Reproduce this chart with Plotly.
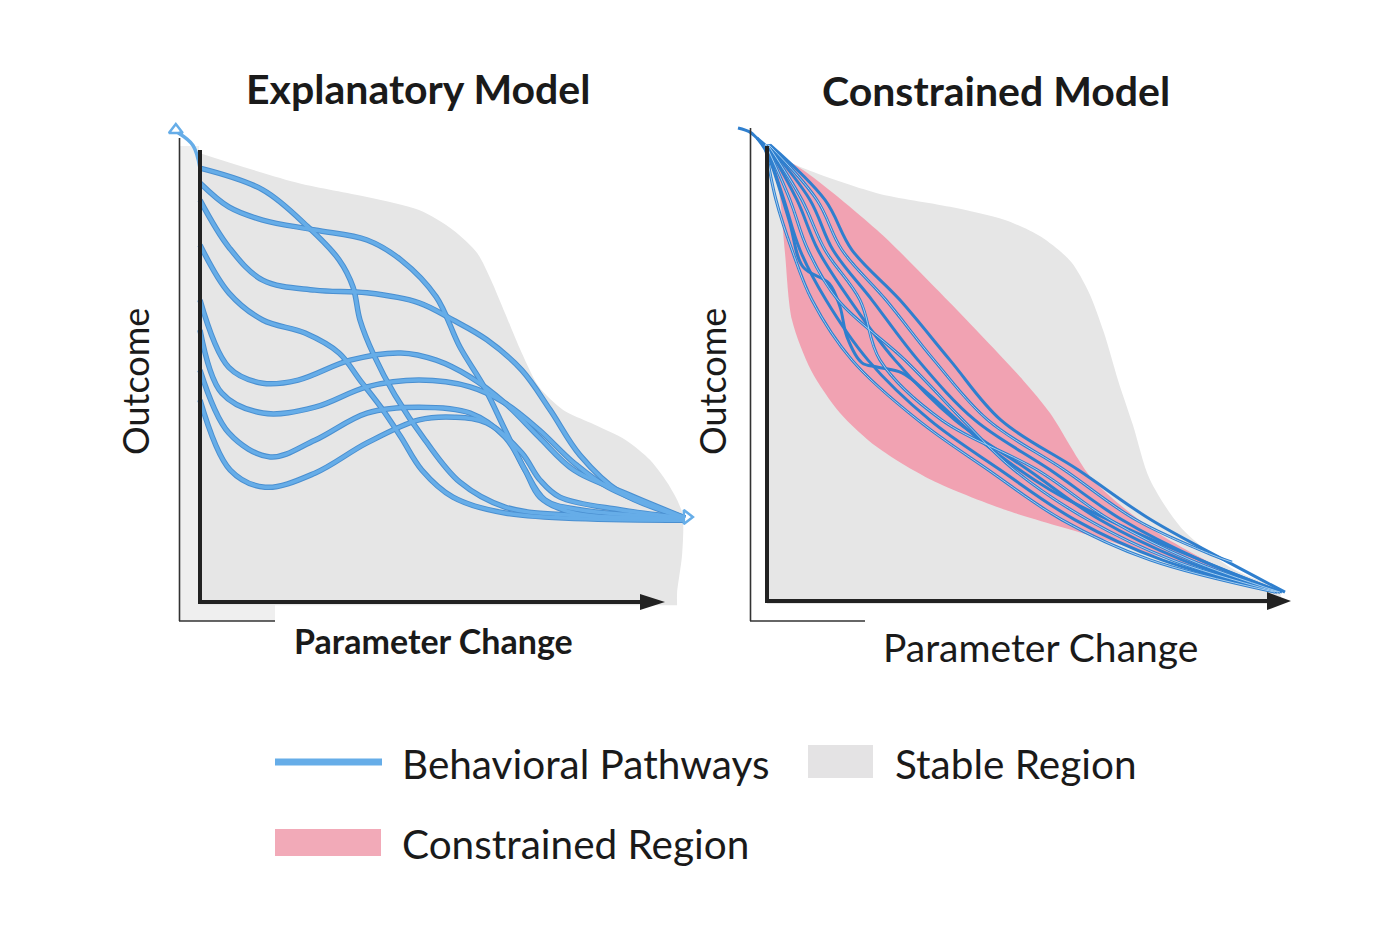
import plotly.graph_objects as go

W, H = 1400, 933

# ---------------- data (left panel: Explanatory Model) ----------------
left_base_x = [0, 10.26]
left_base_y = [-0.07, -0.07]
left_stable_x = [0, 2.11, 3.59, 4.71, 5.44, 5.96, 6.26, 6.56, 6.92, 7.29, 7.81, 8.41, 9.16, 9.68, 10.11, 10.37, 10.37, 10.26, 10.26]
left_stable_y = [9.93, 9.27, 8.96, 8.67, 8.23, 7.72, 7.12, 6.39, 5.51, 4.76, 4.25, 3.96, 3.58, 3.14, 2.54, 1.97, 1.08, 0.2, -0.07]

left_paths = [
    ([0, 1.35, 2.32, 2.99, 3.29, 3.44, 3.74, 4.19, 4.84, 5.59, 6.56, 7.96, 10.43],
     [9.60, 9.12, 8.30, 7.57, 6.97, 6.24, 5.46, 4.58, 3.58, 2.65, 2.10, 1.92, 1.86]),
    ([0, 0.62, 1.35, 2.47, 3.59, 4.32, 5.08, 5.59, 6.11, 6.56, 6.99, 7.42, 8.17, 10.43],
     [9.27, 8.74, 8.45, 8.23, 8.01, 7.57, 6.75, 5.64, 4.76, 3.81, 2.92, 2.26, 2.04, 1.86]),
    ([0, 0.62, 1.35, 2.47, 3.59, 4.71, 5.44, 6.17, 6.92, 7.53, 8.17, 9.03, 10.43],
     [8.89, 7.85, 7.12, 6.90, 6.84, 6.62, 6.24, 5.80, 5.13, 4.25, 3.25, 2.43, 1.86]),
    ([0, 0.62, 1.35, 2.26, 2.99, 3.44, 3.89, 4.32, 4.77, 5.44, 6.56, 10.43],
     [7.90, 6.84, 6.24, 5.95, 5.51, 4.91, 4.31, 3.65, 2.92, 2.32, 1.97, 1.81]),
    ([0, 0.62, 1.35, 2.11, 3.23, 4.32, 5.08, 5.81, 6.56, 7.29, 8.04, 9.14, 10.43],
     [6.68, 5.19, 4.84, 4.91, 5.35, 5.51, 5.35, 4.98, 4.40, 3.65, 2.92, 2.41, 1.86]),
    ([0, 0.47, 1.35, 2.47, 3.59, 4.71, 5.81, 6.56, 7.29, 8.04, 8.77, 10.43],
     [6.02, 4.62, 4.18, 4.31, 4.76, 4.91, 4.76, 4.40, 3.81, 3.08, 2.54, 1.86]),
    ([0, 0.62, 1.51, 2.47, 3.59, 4.71, 5.81, 6.56, 6.99, 7.31, 8.04, 10.43],
     [5.13, 3.74, 3.21, 3.58, 4.18, 4.31, 4.18, 3.65, 2.92, 2.32, 1.97, 1.86]),
    ([0, 0.65, 1.40, 2.47, 3.59, 4.71, 5.48, 6.17, 6.92, 7.31, 7.74, 9.03, 10.43],
     [4.47, 2.92, 2.54, 2.85, 3.52, 4.03, 4.09, 3.96, 3.30, 2.70, 2.32, 2.04, 1.86]),
]
left_stub_x = [-0.47, -0.15, 0]
left_stub_y = [10.38, 10.1, 9.60]
left_tips_x = [-0.52, 10.47]
left_tips_y = [10.44, 1.88]

# ---------------- data (right panel: Constrained Model) ----------------
right_base_x = [0, 10.26]
right_base_y = [0, 0]
right_stable_x = [0, 0.72, 2.2, 3.66, 4.76, 5.48, 6.08, 6.44, 6.74, 7.02, 7.32, 7.66, 8.32, 9.26, 10.26, 10.26]
right_stable_y = [9.98, 9.58, 9.03, 8.73, 8.44, 8.07, 7.52, 6.84, 5.96, 4.92, 3.93, 2.73, 1.63, 0.81, 0.26, 0]

constr_upper_x = [0.1, 0.72, 2.2, 3.66, 5.12, 5.66, 6.52, 7.72, 9.26, 10.22]
constr_upper_y = [9.93, 9.54, 8.22, 6.62, 4.92, 4.20, 2.73, 1.63, 0.68, 0.2]
constr_lower_x = [0.1, 0.26, 0.36, 0.5, 0.88, 1.46, 2.2, 3.28, 4.76, 6.58, 8.06, 9.52, 10.22]
constr_lower_y = [9.93, 8.92, 7.71, 6.24, 5.14, 4.20, 3.45, 2.73, 2.07, 1.47, 0.97, 0.53, 0.2]

rp_y = [10.09, 8.88, 7.78, 6.68, 5.36, 4.04, 2.95, 1.85, 0.97, 0.26]
right_paths = [
    ([-0.2, 0, 0.44, 0.72, 1.24, 1.46, 1.6, 1.9, 2.2, 2.7, 3.26, 4.26, 5.66, 7.26, 8.66, 10.26],
     [10.24, 9.91, 8.44, 7.41, 7.05, 6.53, 5.87, 5.30, 5.21, 5.08, 4.59, 3.60, 2.51, 1.63, 0.97, 0.26]),
    ([-0.04, 0.18, 0.5, 0.9, 1.7, 3.02, 4.42, 5.9, 7.66, 10.16], rp_y),
    ([-0.02, 0.34, 0.66, 1.18, 2.02, 3.26, 4.66, 6.16, 7.9, 10.2], rp_y),
    ([-0.02, 0.46, 0.82, 1.42, 2.76, 3.92, 4.94, 6.42, 8.1, 10.22], rp_y),
    ([0, 0.6, 1.02, 1.66, 2.56, 3.76, 5.22, 6.66, 8.3, 10.26], rp_y),
    ([0.02, 0.7, 1.16, 1.86, 2.26, 3.5, 5.4, 6.86, 8.46, 10.26], rp_y),
    ([0.02, 0.86, 1.32, 2.1, 3.02, 4.16, 5.66, 7.1, 8.66, 10.3], rp_y),
    ([0.04, 1.0, 1.5, 2.38, 3.34, 4.42, 5.94, 7.38, 8.9, 9.3],
     [10.09, 8.88, 7.78, 6.68, 5.36, 4.04, 2.95, 1.85, 1.08, 0.92]),
    ([0.06, 1.16, 1.7, 2.66, 3.66, 4.68, 6.22, 7.68, 9.14, 10.36], rp_y),
]
right_stub_x = [-0.58, -0.34, -0.2, -0.04]
right_stub_y = [10.46, 10.37, 10.24, 10.09]

# ---------------- text ----------------
titles = ["Explanatory Model", "Constrained Model"]
x_label = "Parameter Change"
y_label = "Outcome"
legend_labels = ["Behavioral Pathways", "Stable Region", "Constrained Region"]

GRAY = "#e6e6e6"
PINK = "#f1a2b2"
BLUE = "#66ade8"
BLUE_EDGE = "#4a8fd0"
DARK = "#222222"
FONT = "Lato"

fig = go.Figure()


def add(trace):
    fig.add_trace(trace)


# Left panel: stable region
add(go.Scatter(x=left_base_x, y=left_base_y, mode="lines", line=dict(width=0),
               hoverinfo="skip", showlegend=False, xaxis="x", yaxis="y"))
add(go.Scatter(x=left_stable_x, y=left_stable_y, mode="lines", fill="tonexty", fillcolor=GRAY,
               line=dict(width=0, shape="spline", smoothing=0.8),
               hoverinfo="skip", showlegend=False, xaxis="x", yaxis="y"))
for px_, py_ in left_paths:
    add(go.Scatter(x=px_, y=py_, mode="lines",
                   line=dict(color=BLUE_EDGE, width=5.5, shape="spline", smoothing=1.0),
                   hoverinfo="skip", showlegend=False, xaxis="x", yaxis="y"))
for px_, py_ in left_paths:
    add(go.Scatter(x=px_, y=py_, mode="lines",
                   line=dict(color=BLUE, width=3.5, shape="spline", smoothing=1.0),
                   hoverinfo="skip", showlegend=False, xaxis="x", yaxis="y"))
add(go.Scatter(x=left_stub_x, y=left_stub_y, mode="lines",
               line=dict(color=BLUE, width=3.5, shape="spline"),
               hoverinfo="skip", showlegend=False, xaxis="x", yaxis="y"))
add(go.Scatter(x=left_tips_x, y=left_tips_y, mode="markers",
               marker=dict(symbol=["triangle-up-open", "triangle-right-open"], size=12,
                           color=BLUE, line=dict(width=2.5, color=BLUE)),
               hoverinfo="skip", showlegend=False, xaxis="x", yaxis="y"))

# Right panel: stable + constrained regions
add(go.Scatter(x=right_base_x, y=right_base_y, mode="lines", line=dict(width=0),
               hoverinfo="skip", showlegend=False, xaxis="x2", yaxis="y2"))
add(go.Scatter(x=right_stable_x, y=right_stable_y, mode="lines", fill="tonexty", fillcolor=GRAY,
               line=dict(width=0, shape="spline", smoothing=0.8),
               hoverinfo="skip", showlegend=False, xaxis="x2", yaxis="y2"))
add(go.Scatter(x=constr_upper_x, y=constr_upper_y, mode="lines",
               line=dict(width=0, shape="spline", smoothing=0.8),
               hoverinfo="skip", showlegend=False, xaxis="x2", yaxis="y2"))
add(go.Scatter(x=constr_lower_x, y=constr_lower_y, mode="lines", fill="tonexty", fillcolor=PINK,
               line=dict(width=0, shape="spline", smoothing=0.8),
               hoverinfo="skip", showlegend=False, xaxis="x2", yaxis="y2"))
for px_, py_ in right_paths:
    add(go.Scatter(x=px_, y=py_, mode="lines",
                   line=dict(color="#2f7fce", width=3, shape="spline", smoothing=1.0),
                   hoverinfo="skip", showlegend=False, xaxis="x2", yaxis="y2"))
for i, (px_, py_) in enumerate(right_paths):
    if i % 2 == 1:
        add(go.Scatter(x=px_, y=py_, mode="lines",
                       line=dict(color="#a3cef2", width=1, shape="spline", smoothing=1.0),
                       hoverinfo="skip", showlegend=False, xaxis="x2", yaxis="y2"))
add(go.Scatter(x=right_stub_x, y=right_stub_y, mode="lines",
               line=dict(color="#2f7fce", width=3, shape="spline"),
               hoverinfo="skip", showlegend=False, xaxis="x2", yaxis="y2"))


def P(px, py):
    return px / W, 1 - py / H


shapes = []


def line(x0, y0, x1, y1, width, color):
    a, b = P(x0, y0)
    c, d = P(x1, y1)
    shapes.append(dict(type="line", xref="paper", yref="paper", x0=a, y0=b, x1=c, y1=d,
                       line=dict(color=color, width=width), layer="above"))


def rect(x0, y0, x1, y1, color, layer="below"):
    a, b = P(x0, y0)
    c, d = P(x1, y1)
    shapes.append(dict(type="rect", xref="paper", yref="paper", x0=a, y0=d, x1=c, y1=b,
                       fillcolor=color, line=dict(width=0), layer=layer))


def tri(tipx, tipy, basex, half, color):
    pts = [P(tipx, tipy), P(basex, tipy - half), P(basex, tipy + half)]
    path = "M {} {} L {} {} L {} {} Z".format(*[v for p in pts for v in p])
    shapes.append(dict(type="path", xref="paper", yref="paper", path=path,
                       fillcolor=color, line=dict(width=0), layer="above"))


# left frame decorations
rect(180, 146, 199, 621, "#efefef")
rect(199, 604, 275, 621, "#efefef")
line(179.5, 138, 179.5, 621, 1.6, "#333333")
line(179, 621, 275, 621, 1.6, "#333333")
line(200, 604, 200, 150, 4, DARK)
line(198, 602, 648, 602, 4, DARK)
tri(665, 602, 640, 8, DARK)

# right frame decorations
line(750.5, 128, 750.5, 621, 1.6, "#333333")
line(750, 621, 865, 621, 1.6, "#333333")
line(767, 603, 767, 146, 4, DARK)
line(765, 601, 1272, 601, 4, DARK)
tri(1291, 601, 1267, 9, DARK)

# legend
line(275, 762, 382, 762, 7, BLUE)
rect(808, 745, 873, 778, "#e4e3e4", layer="above")
rect(275, 829, 381, 856, "#f2aab8", layer="above")

annotations = []


def text(t, px, py, size, bold=False, xanchor="center", angle=0):
    x, y = P(px, py)
    annotations.append(dict(text=("<b>%s</b>" % t) if bold else t, x=x, y=y, xref="paper", yref="paper",
                            showarrow=False, xanchor=xanchor, yanchor="middle", textangle=angle,
                            font=dict(family=FONT, size=size, color="#1a1a1a")))


text(titles[0], 418, 88, 41, bold=True)
text(titles[1], 996, 91, 41, bold=True)
text(x_label, 433, 640, 34, bold=True)
text(x_label, 1040, 647, 39)
text(y_label, 135, 382, 36, angle=-90)
text(y_label, 712, 382, 36, angle=-90)
text(legend_labels[0], 400, 763, 40.5, xanchor="left")
text(legend_labels[1], 893, 763, 40.5, xanchor="left")
text(legend_labels[2], 400, 843, 40.5, xanchor="left")

ax_common = dict(visible=False, showgrid=False, zeroline=False, fixedrange=True)
fig.update_layout(
    width=W, height=H, margin=dict(l=0, r=0, t=0, b=0),
    paper_bgcolor="white", plot_bgcolor="rgba(0,0,0,0)",
    xaxis=dict(domain=[0, 0.5], range=[-200 / 46.5, 500 / 46.5], **ax_common),
    yaxis=dict(domain=[0, 1], range=[(602 - 933) / 45.2, 602 / 45.2], **ax_common),
    xaxis2=dict(domain=[0.5, 1], range=[(700 - 767) / 50.0, (1400 - 767) / 50.0], **ax_common),
    yaxis2=dict(domain=[0, 1], range=[(604 - 933) / 45.5, 604 / 45.5], anchor="x2", **ax_common),
    shapes=shapes, annotations=annotations, showlegend=False,
)
fig.write_html("out.html")
